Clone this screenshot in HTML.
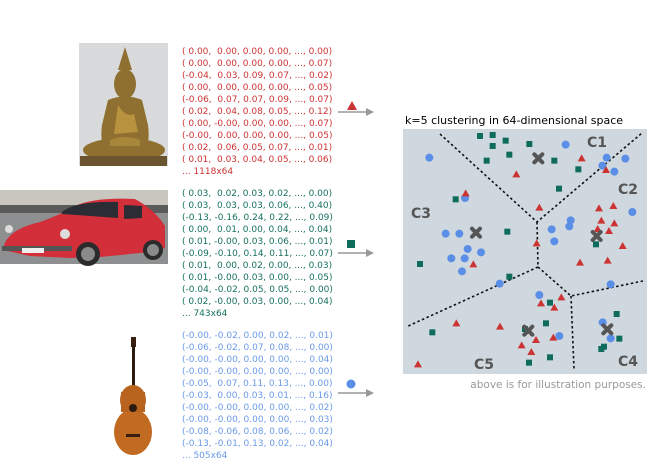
<!DOCTYPE html>
<html><head><meta charset="utf-8"><style>
html,body{margin:0;padding:0;background:#fff;width:647px;height:464px;overflow:hidden}
.t{position:absolute;font-family:"DejaVu Sans","Liberation Sans",sans-serif;font-size:9px;line-height:12.05px;white-space:pre;left:182px}
</style></head><body>
<svg width="647" height="464" style="position:absolute;left:0;top:0">
<!-- buddha -->
<rect x="79" y="43" width="89" height="123" fill="#d9dadc"/>
<g fill="#8f7030">
<path d="M125 47 L129 60 L132 70 L118 70 L121 60 Z"/>
<ellipse cx="125" cy="84" rx="11" ry="15"/>
<path d="M108 100 Q125 93 142 100 L148 125 Q150 140 146 148 L104 148 Q100 140 102 125 Z"/>
<ellipse cx="124" cy="150" rx="41" ry="12"/>
<rect x="80" y="156" width="87" height="10" fill="#6b5530"/>
</g>
<path d="M118 105 Q126 118 134 114 L138 132 L114 134 Z" fill="#b8923e"/>
<path d="M110 140 Q125 134 140 140 L140 146 L110 146 Z" fill="#a8873a"/>
<!-- car -->
<rect x="0" y="190" width="168" height="74" fill="#8d8f90"/>
<rect x="0" y="190" width="168" height="22" fill="#c9c6bf"/>
<rect x="0" y="205" width="168" height="8" fill="#5a5b5a"/>
<path d="M3 250 Q5 230 40 222 Q60 215 75 206 Q95 197 135 199 Q155 210 165 226 L165 248 L150 252 L100 257 L70 258 L30 256 Z" fill="#d32f3b"/>
<path d="M62 212 Q75 201 118 202 L118 218 Q90 216 62 214 Z" fill="#2c2c34"/>
<path d="M124 205 L142 206 L142 218 L124 219 Z" fill="#2c2c34"/>
<circle cx="88" cy="254" r="12" fill="#2b2b2b"/><circle cx="88" cy="254" r="7" fill="#8a8a8a"/>
<circle cx="153" cy="250" r="10" fill="#2b2b2b"/><circle cx="153" cy="250" r="6" fill="#8a8a8a"/>
<rect x="2" y="246" width="70" height="5" fill="#555"/>
<circle cx="9" cy="229" r="4" fill="#ddd"/><circle cx="65" cy="234" r="5" fill="#ddd"/>
<rect x="22" y="248" width="22" height="5" fill="#eee"/>
<!-- guitar -->
<rect x="131" y="337" width="5" height="10" fill="#3a1f10"/>
<rect x="132" y="345" width="3" height="42" fill="#2a1a10"/>
<ellipse cx="133" cy="400" rx="13" ry="15" fill="#b8641e"/>
<ellipse cx="133" cy="432" rx="19" ry="23" fill="#c06a22"/>
<rect x="121" y="392" width="24" height="20" fill="#b8641e"/>
<circle cx="133" cy="408" r="4" fill="#2a1a10"/>
<rect x="126" y="434" width="14" height="3" fill="#3a1f10"/>
<!-- arrows -->
<g stroke="#999" stroke-width="1.5" fill="#999">
<line x1="338" y1="112" x2="368" y2="112"/><path d="M366 108 L374 112 L366 116 Z" stroke="none"/>
<line x1="338" y1="253" x2="368" y2="253"/><path d="M366 249 L374 253 L366 257 Z" stroke="none"/>
<line x1="338" y1="393" x2="368" y2="393"/><path d="M366 389 L374 393 L366 397 Z" stroke="none"/>
</g>
<path d="M347 110 L352 101 L357 110 Z" fill="#cc3333"/>
<rect x="347" y="240" width="8" height="8" fill="#0f6b5c"/>
<circle cx="351" cy="384" r="4.5" fill="#5b8ee6"/>
<!-- panel -->
<rect x="403" y="129" width="244" height="245" fill="#cfd8de"/>
<g stroke="#111" stroke-width="1.6" stroke-dasharray="2.5,2.5" fill="none">
<polyline points="440,134 537,222 642,133"/>
<polyline points="537,222 538,267 406,327"/>
<polyline points="538,267 571,296 643,281"/>
<line x1="571" y1="296" x2="574" y2="369"/>
</g>
<g font-family="DejaVu Sans,Liberation Sans,sans-serif" font-weight="bold" font-size="14" fill="#555">
<text x="587" y="147">C1</text><text x="618" y="194">C2</text><text x="411" y="218">C3</text><text x="618" y="366">C4</text><text x="474" y="369">C5</text>
</g>
<g transform="translate(400,110) scale(0.33333)">
<g fill="#5b8ee6">
<circle cx="88" cy="143" r="12"/><circle cx="497" cy="104" r="12"/><circle cx="620" cy="143" r="12"/><circle cx="676" cy="146" r="12"/><circle cx="607" cy="167" r="12"/><circle cx="643" cy="185" r="12"/><circle cx="195" cy="264" r="12"/><circle cx="697" cy="306" r="12"/><circle cx="512" cy="331" r="12"/><circle cx="508" cy="349" r="12"/><circle cx="455" cy="358" r="12"/><circle cx="463" cy="394" r="12"/><circle cx="137" cy="371" r="12"/><circle cx="178" cy="371" r="12"/><circle cx="203" cy="417" r="12"/><circle cx="243" cy="427" r="12"/><circle cx="154" cy="445" r="12"/><circle cx="194" cy="445" r="12"/><circle cx="186" cy="484" r="12"/><circle cx="299" cy="521" r="12"/><circle cx="632" cy="523" r="12"/><circle cx="418" cy="555" r="12"/><circle cx="608" cy="637" r="12"/><circle cx="632" cy="685" r="12"/><circle cx="478" cy="678" r="12"/>
</g>
<g fill="#0f6b5c" transform="translate(-9,-9)">
<rect x="240" y="78" width="18" height="18"/><rect x="278" y="75" width="18" height="18"/><rect x="278" y="108" width="18" height="18"/><rect x="317" y="92" width="18" height="18"/><rect x="388" y="102" width="18" height="18"/><rect x="328" y="134" width="18" height="18"/><rect x="260" y="152" width="18" height="18"/><rect x="463" y="152" width="18" height="18"/><rect x="535" y="178" width="18" height="18"/><rect x="477" y="236" width="18" height="18"/><rect x="167" y="268" width="18" height="18"/><rect x="322" y="365" width="18" height="18"/><rect x="588" y="403" width="18" height="18"/><rect x="60" y="462" width="18" height="18"/><rect x="328" y="500" width="18" height="18"/><rect x="450" y="578" width="18" height="18"/><rect x="438" y="640" width="18" height="18"/><rect x="375" y="657" width="18" height="18"/><rect x="650" y="612" width="18" height="18"/><rect x="658" y="686" width="18" height="18"/><rect x="612" y="710" width="18" height="18"/><rect x="604" y="717" width="18" height="18"/><rect x="450" y="742" width="18" height="18"/><rect x="387" y="758" width="18" height="18"/><rect x="97" y="667" width="18" height="18"/>
</g>
<g fill="#cc3333">
<path d="M-12 9 L0 -12 L12 9 Z" transform="translate(545,145)"/>
<path d="M-12 9 L0 -12 L12 9 Z" transform="translate(349,193)"/><path d="M-12 9 L0 -12 L12 9 Z" transform="translate(618,180)"/><path d="M-12 9 L0 -12 L12 9 Z" transform="translate(197,250)"/><path d="M-12 9 L0 -12 L12 9 Z" transform="translate(418,293)"/><path d="M-12 9 L0 -12 L12 9 Z" transform="translate(597,295)"/><path d="M-12 9 L0 -12 L12 9 Z" transform="translate(640,288)"/><path d="M-12 9 L0 -12 L12 9 Z" transform="translate(604,332)"/><path d="M-12 9 L0 -12 L12 9 Z" transform="translate(643,340)"/><path d="M-12 9 L0 -12 L12 9 Z" transform="translate(593,357)"/><path d="M-12 9 L0 -12 L12 9 Z" transform="translate(627,363)"/><path d="M-12 9 L0 -12 L12 9 Z" transform="translate(410,400)"/><path d="M-12 9 L0 -12 L12 9 Z" transform="translate(668,408)"/><path d="M-12 9 L0 -12 L12 9 Z" transform="translate(540,458)"/><path d="M-12 9 L0 -12 L12 9 Z" transform="translate(623,452)"/><path d="M-12 9 L0 -12 L12 9 Z" transform="translate(220,463)"/><path d="M-12 9 L0 -12 L12 9 Z" transform="translate(484,562)"/><path d="M-12 9 L0 -12 L12 9 Z" transform="translate(423,580)"/><path d="M-12 9 L0 -12 L12 9 Z" transform="translate(463,593)"/><path d="M-12 9 L0 -12 L12 9 Z" transform="translate(169,640)"/><path d="M-12 9 L0 -12 L12 9 Z" transform="translate(300,650)"/><path d="M-12 9 L0 -12 L12 9 Z" transform="translate(408,690)"/><path d="M-12 9 L0 -12 L12 9 Z" transform="translate(460,683)"/><path d="M-12 9 L0 -12 L12 9 Z" transform="translate(365,706)"/><path d="M-12 9 L0 -12 L12 9 Z" transform="translate(394,726)"/><path d="M-12 9 L0 -12 L12 9 Z" transform="translate(54,763)"/>
</g>
<g stroke="#555" stroke-width="12" stroke-linecap="round">
<path d="M403 133 L427 157 M427 133 L403 157"/>
<path d="M216 356 L240 380 M240 356 L216 380"/>
<path d="M578 366 L602 390 M602 366 L578 390"/>
<path d="M610 646 L634 670 M634 646 L610 670"/>
<path d="M373 650 L397 674 M397 650 L373 674"/>
</g>
</g>
<text x="405" y="124" font-family="DejaVu Sans,Liberation Sans,sans-serif" font-size="11" fill="#000">k=5 clustering in 64-dimensional space</text>
<text x="646" y="388" text-anchor="end" font-family="DejaVu Sans,Liberation Sans,sans-serif" font-size="10.5" fill="#999">above is for illustration purposes.</text>
</svg>
<div class="t" style="top:46px;color:#cc3333">( 0.00,  0.00, 0.00, 0.00, ..., 0.00)
( 0.00,  0.00, 0.00, 0.00, ..., 0.07)
(-0.04,  0.03, 0.09, 0.07, ..., 0.02)
( 0.00,  0.00, 0.00, 0.00, ..., 0.05)
(-0.06,  0.07, 0.07, 0.09, ..., 0.07)
( 0.02,  0.04, 0.08, 0.05, ..., 0.12)
( 0.00, -0.00, 0.00, 0.00, ..., 0.07)
(-0.00,  0.00, 0.00, 0.00, ..., 0.05)
( 0.02,  0.06, 0.05, 0.07, ..., 0.01)
( 0.01,  0.03, 0.04, 0.05, ..., 0.06)
... 1118x64</div>
<div class="t" style="top:188px;color:#16705f">( 0.03,  0.02, 0.03, 0.02, ..., 0.00)
( 0.03,  0.03, 0.03, 0.06, ..., 0.40)
(-0.13, -0.16, 0.24, 0.22, ..., 0.09)
( 0.00,  0.01, 0.00, 0.04, ..., 0.04)
( 0.01, -0.00, 0.03, 0.06, ..., 0.01)
(-0.09, -0.10, 0.14, 0.11, ..., 0.07)
( 0.01,  0.00, 0.02, 0.00, ..., 0.03)
( 0.01, -0.00, 0.03, 0.00, ..., 0.05)
(-0.04, -0.02, 0.05, 0.05, ..., 0.00)
( 0.02, -0.00, 0.03, 0.00, ..., 0.04)
... 743x64</div>
<div class="t" style="top:330px;color:#6a9ae8">(-0.00, -0.02, 0.00, 0.02, ..., 0.01)
(-0.06, -0.02, 0.07, 0.08, ..., 0.00)
(-0.00, -0.00, 0.00, 0.00, ..., 0.04)
(-0.00, -0.00, 0.00, 0.00, ..., 0.00)
(-0.05,  0.07, 0.11, 0.13, ..., 0.00)
(-0.03,  0.00, 0.03, 0.01, ..., 0.16)
(-0.00, -0.00, 0.00, 0.00, ..., 0.02)
(-0.00, -0.00, 0.00, 0.00, ..., 0.03)
(-0.08, -0.06, 0.08, 0.06, ..., 0.02)
(-0.13, -0.01, 0.13, 0.02, ..., 0.04)
... 505x64</div>
</body></html>
